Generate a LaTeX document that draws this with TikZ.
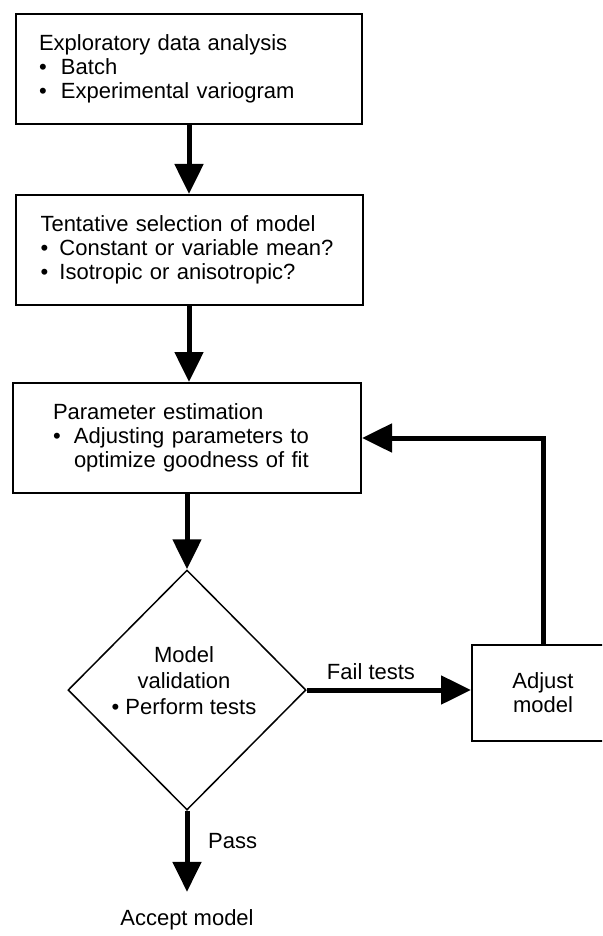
\documentclass[tikz,border=0pt]{standalone}
\usepackage{fontspec}
\setmainfont{Liberation Sans}
\usetikzlibrary{arrows.meta,shapes.geometric}
\begin{document}
\begin{tikzpicture}[x=1pt,y=-1pt,
  every node/.style={font=\fontsize{22}{24}\selectfont},
  box/.style={draw,line width=2pt,rectangle,align=left,minimum height=110pt},
  arr/.style={line width=5pt,line join=miter,-{Triangle[length=30pt,width=28pt]}},
  lbl/.style={inner sep=0pt}]
\clip (0,0) rectangle (602,936);
\node[box, text width=300pt, inner xsep=23pt] (b1) at (189,69)
  {Exploratory data analysis\\ \makebox[22pt][l]{•}Batch\\ \makebox[22pt][l]{•}Experimental variogram};
\node[box, text width=297pt, inner xsep=25pt] (b2) at (189,250)
  {Tentative selection of model\\ \makebox[19pt][l]{•}Constant or variable mean?\\ \makebox[19pt][l]{•}Isotropic or anisotropic?};
\node[box, text width=268pt, inner xsep=40pt] (b3) at (187,438)
  {Parameter estimation\\ \makebox[21pt][l]{•}Adjusting parameters to\\ \hspace*{21pt}optimize goodness of fit};
\node[draw, diamond, minimum width=238pt, minimum height=240pt, inner sep=0pt, line width=1.5pt] (dia) at (187,690) {};
\node[align=center, font=\fontsize{22}{26}\selectfont] (dtxt) at (184,681) {Model\\validation\\• Perform tests};
\node[draw, line width=2pt, minimum width=142pt, minimum height=96pt, align=center] (adj) at (543,693) {Adjust\\model};
\node[lbl, anchor=base] (acc) at (187,925) {Accept model};
\node[lbl, anchor=base] (fail) at (371,679) {Fail tests};
\node[lbl, anchor=base west] (pass) at (208,848) {Pass};
\draw[arr] (b1.south) -- (b1.south |- b2.north);
\draw[arr] (b2.south) -- (b2.south |- b3.north);
\draw[arr] (b3.south) -- (dia.north);
\draw[arr, shorten >=17pt] (dia.south) -- (acc.north);
\draw[arr] (dia.east) -- (dia.east -| adj.west);
\draw[arr] (adj.north) |- (b3.east);
\end{tikzpicture}
\end{document}
